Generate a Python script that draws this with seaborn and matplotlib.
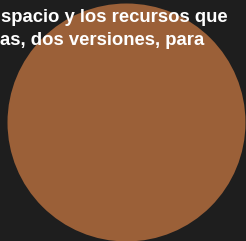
import matplotlib
matplotlib.use("Agg")
import matplotlib.pyplot as plt
import seaborn as sns
import pandas as pd

# one bubble, the whole chart
labels = ["recursos"]
values = [1.0]
text_lines = ["spacio y los recursos que", "as, dos versiones, para"]

bg = "#1e1e1e"
bubble = "#9b6038"

sns.set_style("dark", {"axes.facecolor": bg, "figure.facecolor": bg})
plt.rcParams['font.family'] = ['Liberation Sans', 'DejaVu Sans']

df = pd.DataFrame({"x": [0.0], "y": [0.0], "label": labels, "v": values})

W, H, dpi = 246, 241, 100
fig = plt.figure(figsize=(W / dpi, H / dpi), dpi=dpi)
ax = fig.add_axes([0, 0, 1, 1])

diam_pt = 238 * 72 / dpi
sns.scatterplot(data=df, x="x", y="y", s=diam_pt ** 2, color=bubble,
                linewidth=0, legend=False, ax=ax)
ax.set_xlim(-126, 120)
ax.set_ylim(-119, 122)
ax.set_axis_off()

for i, line in enumerate(text_lines):
    fig.text(1 / W if i == 0 else 0, 1 - (22 + 23 * i) / H, line, color="white",
             fontsize=13.3, fontweight="bold", va="baseline", ha="left")

fig.savefig("out.png", dpi=dpi, facecolor=bg)
